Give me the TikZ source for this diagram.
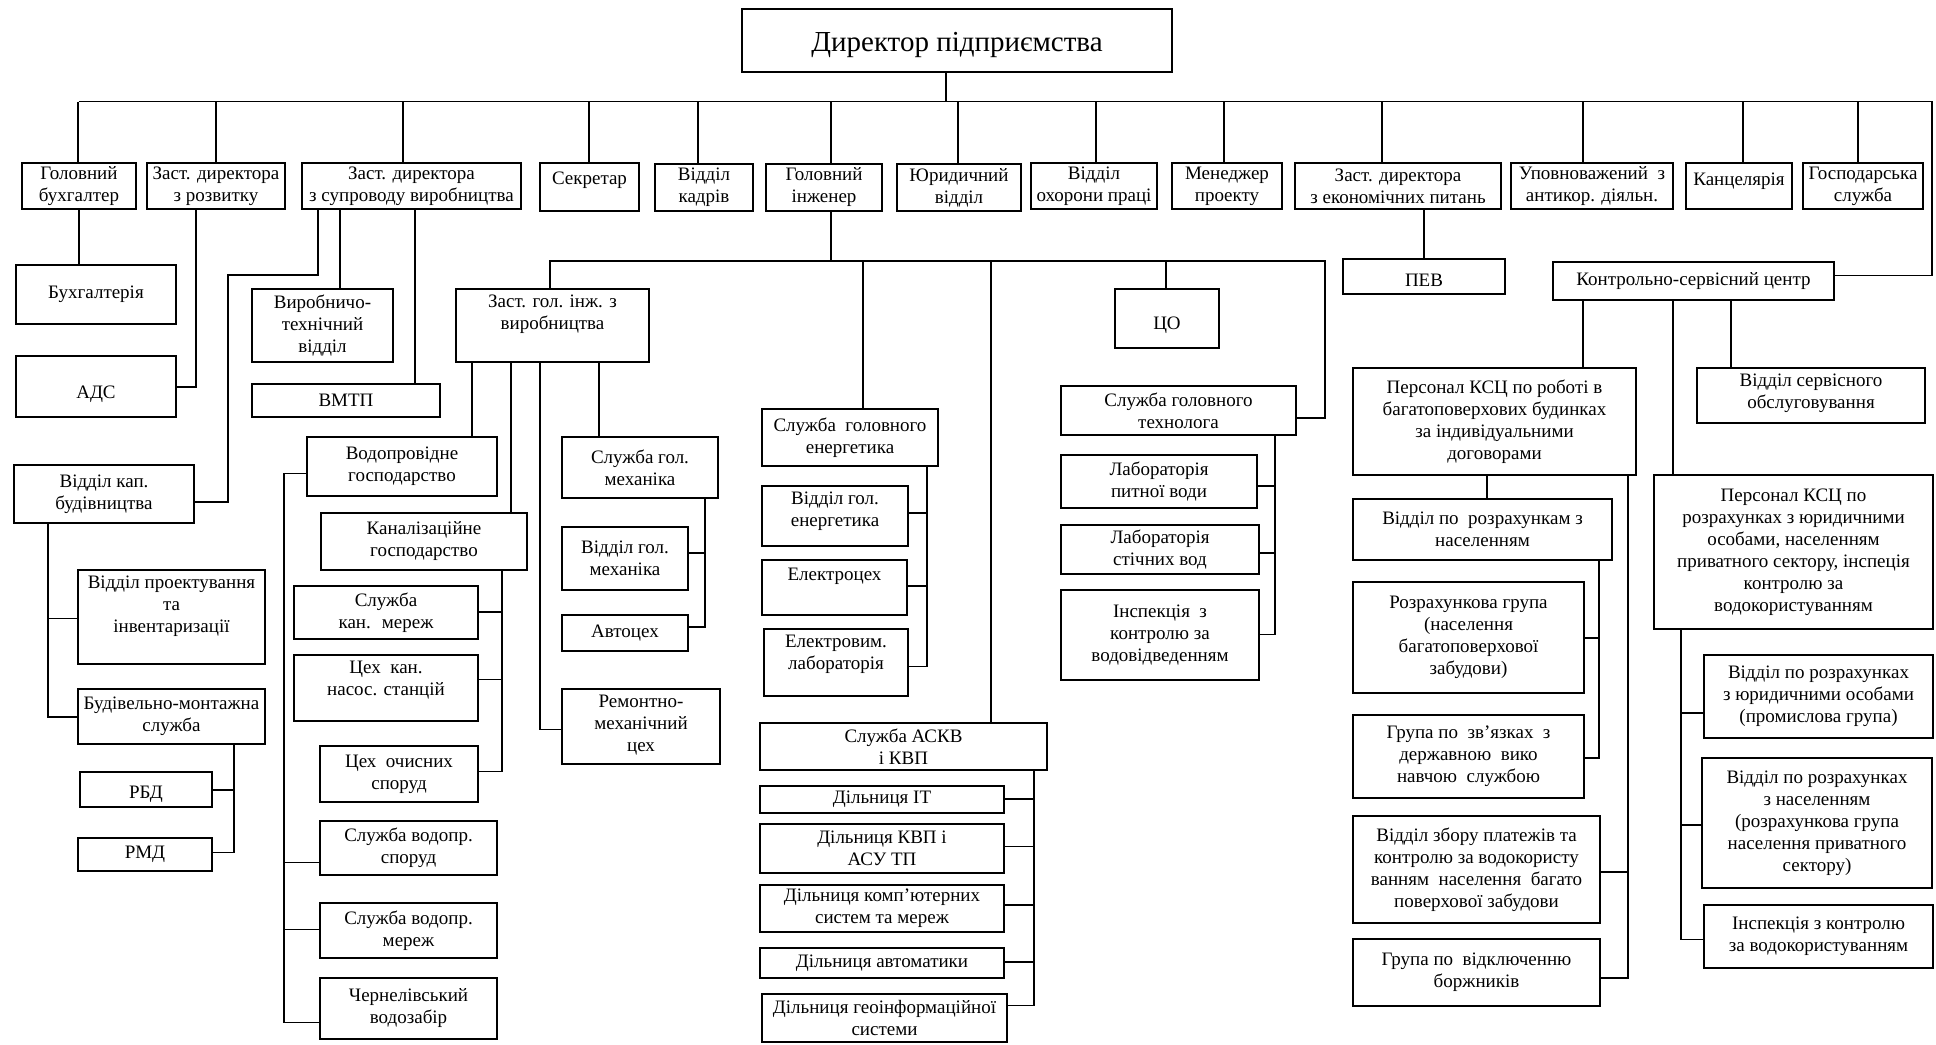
\documentclass[tikz,border=0pt]{standalone}
\usepackage{fontspec}
\setmainfont{Liberation Serif}
\tikzset{
  box/.style={draw, line width=0.7pt, inner sep=0pt, outer sep=0pt},
  lbl/.style={align=center, inner sep=0pt, font=\fontsize{9.5}{11}\selectfont},
  ln/.style={line width=0.7pt}
}
\newcommand\mybox[6]{%
  \pgfmathsetmacro\bxw{(#4-#2)*0.5}%
  \pgfmathsetmacro\bxh{(#5-#3)*0.5}%
  \node[box, minimum width=\bxw pt, minimum height=\bxh pt] (#1) at ({(#2+#4)/2},{(#3+#5)/2}) {};%
  \node[lbl] at (#1.center) {#6};}
\newcommand\myboxs[7]{%
  \pgfmathsetmacro\bxw{(#4-#2)*0.5}%
  \pgfmathsetmacro\bxh{(#5-#3)*0.5}%
  \node[box, minimum width=\bxw pt, minimum height=\bxh pt] (#1) at ({(#2+#4)/2},{(#3+#5)/2}) {};%
  \node[lbl] at ([yshift=-#7]#1.center) {#6};}
\newcommand\myboxt[7]{%
  \pgfmathsetmacro\bxw{(#4-#2)*0.5}%
  \pgfmathsetmacro\bxh{(#5-#3)*0.5}%
  \node[box, minimum width=\bxw pt, minimum height=\bxh pt] (#1) at ({(#2+#4)/2},{(#3+#5)/2}) {};%
  \node[lbl, anchor=north] at ([yshift=-#7]#1.north) {#6};}
\begin{document}
\begin{tikzpicture}[x=0.5pt, y=-0.5pt]
\useasboundingbox (0,0) rectangle (1936,1044);
% director
\pgfmathsetmacro\bxw{(1172-742)*0.5}\pgfmathsetmacro\bxh{(72-9)*0.5}
\node[box, minimum width=\bxw pt, minimum height=\bxh pt] (dir) at (957,40.5) {};
\node[inner sep=0pt, font=\fontsize{14.5}{16}\selectfont] at ([yshift=-2pt]dir.center) {Директор підприємства};
% top row
\mybox{gb}{22}{163}{136}{209}{Головний\\бухгалтер}
\mybox{zr}{147}{163}{285}{209}{Заст. директора\\з розвитку}
\mybox{zs}{302}{163}{521}{209}{Заст. директора\\з супроводу виробництва}
\myboxt{sek}{540}{163}{639}{211}{Секретар}{4.5pt}
\mybox{kad}{655}{164}{753}{211}{Відділ\\кадрів}
\mybox{gi}{766}{164}{882}{211}{Головний\\інженер}
\mybox{yur}{897}{164}{1021}{211}{Юридичний\\відділ}
\mybox{ohp}{1031}{163}{1157}{209}{Відділ\\охорони праці}
\mybox{men}{1172}{163}{1282}{209}{Менеджер\\проекту}
\mybox{zek}{1295}{163}{1501}{209}{Заст. директора\\з економічних питань}
\mybox{upo}{1511}{163}{1673}{209}{Уповноважений~ з\\антикор. діяльн.}
\myboxt{kan}{1686}{163}{1792}{209}{Канцелярія}{5pt}
\mybox{gos}{1803}{163}{1923}{209}{Господарська\\служба}
% left branch
\mybox{buh}{16}{265}{176}{324}{Бухгалтерія}
\myboxs{ads}{16}{356}{176}{417}{АДС}{4pt}
\mybox{vtv}{252}{289}{393}{362}{Виробничо-\\технічний\\відділ}
\mybox{vmtp}{252}{384}{440}{417}{ВМТП}
\mybox{kap}{14}{465}{194}{523}{Відділ кап.\\будівництва}
\myboxt{vpi}{78}{570}{265}{664}{Відділ проектування\\та\\інвентаризації}{3pt}
\mybox{bms}{78}{689}{265}{744}{Будівельно-монтажна\\служба}
\myboxs{rbd}{80}{772}{212}{807}{РБД}{2.5pt}
\mybox{rmd}{78}{838}{212}{871}{РМД}
% engineer branch
\myboxt{zgi}{456}{289}{649}{362}{Заст. гол. інж. з\\виробництва}{3pt}
\mybox{vod}{307}{437}{497}{496}{Водопровідне\\господарство}
\mybox{kanal}{321}{513}{527}{570}{Каналізаційне\\господарство}
\mybox{skm}{294}{586}{478}{639}{Служба\\кан.~ мереж}
\myboxt{cks}{294}{655}{478}{721}{Цех~ кан.\\насос. станцій}{3pt}
\mybox{cos}{320}{746}{478}{802}{Цех~ очисних\\споруд}
\mybox{svs}{320}{821}{497}{875}{Служба водопр.\\споруд}
\mybox{svm}{320}{903}{497}{958}{Служба водопр.\\мереж}
\mybox{chv}{320}{978}{497}{1039}{Чернелівський\\водозабір}
\mybox{sgm}{562}{437}{718}{498}{Служба гол.\\механіка}
\mybox{vgm}{562}{527}{688}{590}{Відділ гол.\\механіка}
\mybox{avt}{562}{615}{688}{651}{Автоцех}
\myboxt{rmc}{562}{689}{720}{764}{Ремонтно-\\механічний\\цех}{3pt}
\mybox{sge}{762}{409}{938}{466}{Служба~ головного\\енергетика}
\myboxt{vge}{762}{486}{908}{546}{Відділ гол.\\енергетика}{3pt}
\myboxt{elc}{762}{560}{907}{615}{Електроцех}{4pt}
\myboxt{elv}{764}{629}{908}{696}{Електровим.\\лабораторія}{3pt}
\mybox{askv}{760}{723}{1047}{770}{Служба АСКВ\\і КВП}
\mybox{dit}{760}{786}{1004}{813}{Дільниця ІТ}
\mybox{dkvp}{760}{824}{1004}{873}{Дільниця КВП і\\АСУ ТП}
\mybox{dks}{760}{885}{1004}{932}{Дільниця комп’ютерних\\систем та мереж}
\mybox{dav}{760}{948}{1004}{978}{Дільниця автоматики}
\mybox{dgeo}{762}{994}{1007}{1042}{Дільниця геоінформаційної\\системи}
\myboxs{co}{1115}{289}{1219}{348}{ЦО}{3.5pt}
\mybox{sgt}{1061}{386}{1296}{435}{Служба головного\\технолога}
\mybox{lpv}{1061}{455}{1257}{508}{Лабораторія\\питної води}
\mybox{lsv}{1061}{525}{1259}{574}{Лабораторія\\стічних вод}
\mybox{ikv}{1061}{590}{1259}{680}{Інспекція~ з\\контролю за\\водовідведенням}
% economic branch
\myboxs{pev}{1343}{259}{1505}{294}{ПЕВ}{2pt}
\mybox{ksc}{1553}{262}{1834}{300}{Контрольно-сервісний центр}
\mybox{pbb}{1353}{368}{1636}{475}{Персонал КСЦ по роботі в\\багатоповерхових будинках\\за індивідуальними\\договорами}
\myboxt{vso}{1697}{368}{1925}{423}{Відділ сервісного\\обслуговування}{3pt}
\mybox{vrn}{1353}{499}{1612}{560}{Відділ по~ розрахункам з\\населенням}
\mybox{rgr}{1353}{582}{1584}{693}{Розрахункова група\\(населення\\багатоповерхової\\забудови)}
\mybox{gzv}{1353}{715}{1584}{798}{Група по~ зв’язках~ з\\державною~ вико\\навчою~ службою}
\mybox{vzp}{1353}{816}{1600}{923}{Відділ збору платежів та\\контролю за водокористу\\ванням~ населення~ багато\\поверхової забудови}
\mybox{gvb}{1353}{939}{1600}{1006}{Група по~ відключенню\\боржників}
\mybox{prz}{1654}{475}{1933}{629}{Персонал КСЦ по\\розрахунках з юридичними\\особами, населенням\\приватного сектору, інспеція\\контролю за\\водокористуванням}
\mybox{vyu}{1704}{655}{1933}{738}{Відділ по розрахунках\\з юридичними особами\\(промислова група)}
\mybox{vnp}{1702}{758}{1932}{888}{Відділ по розрахунках\\з населенням\\(розрахункова група\\населення приватного\\сектору)}
\mybox{ikw}{1704}{905}{1933}{968}{Інспекція з контролю\\за водокористуванням}
% ---------- connectors ----------
\coordinate (tb) at (0,101.6);
\draw[ln] (dir.south -| 946,0) -- (946,101.6);
\draw[ln] (gb.north |- tb) -- (1932,101.6) |- (ksc.east |- 0,275.5);
\foreach \n/\x in {gb/78, zr/216, zs/403, sek/589, kad/698, gi/831, yur/958, ohp/1096, men/1224, zek/1382, upo/1583, kan/1743, gos/1858}
  \draw[ln] (\x,101.6) -- (\n.north -| \x,0);
% left
\draw[ln] (gb.south) -- (gb.south |- buh.north);
\draw[ln] (zr.south -| 196,0) |- (ads.east |- 0,387);
\draw[ln] (zs.south -| 318,0) -- (318,275) -- (228,275) |- (kap.east |- 0,502);
\draw[ln] (zs.south -| 340,0) -- (vtv.north -| 340,0);
\draw[ln] (zs.south -| 415,0) -- (vmtp.north -| 415,0);
\draw[ln] (kap.south -| 48,0) |- (bms.west |- 0,717);
\draw[ln] (48,618.6) -- (vpi.west |- 0,618.6);
\draw[ln] (bms.south -| 234,0) -- (234,852.5) -- (rmd.east |- 0,852.5);
\draw[ln] (234,790) -- (rbd.east |- 0,790);
% engineer
\draw[ln] (gi.south -| 831,0) -- (831,261);
\draw[ln] (zgi.north -| 550,0) |- (1325,261) |- (sgt.east |- 0,418);
\draw[ln] (863,261) -- (sge.north -| 863,0);
\draw[ln] (991,261) -- (askv.north -| 991,0);
\draw[ln] (1166,261) -- (co.north -| 1166,0);
\draw[ln] (zgi.south -| 472,0) -- (vod.north -| 472,0);
\draw[ln] (zgi.south -| 511,0) -- (kanal.north -| 511,0);
\draw[ln] (zgi.south -| 540,0) |- (rmc.west |- 0,729.5);
\draw[ln] (zgi.south -| 599,0) -- (sgm.north -| 599,0);
\draw[ln] (vod.west |- 0,473.5) -| (284,1022.3) -- (chv.west |- 0,1022.3);
\draw[ln] (284,862.5) -- (svs.west |- 0,862.5);
\draw[ln] (284,929.4) -- (svm.west |- 0,929.4);
\draw[ln] (kanal.south -| 502,0) |- (cos.east |- 0,771.3);
\draw[ln] (502,612) -- (skm.east |- 0,612);
\draw[ln] (502,679.4) -- (cks.east |- 0,679.4);
\draw[ln] (sgm.south -| 705,0) |- (avt.east |- 0,627);
\draw[ln] (705,553) -- (vgm.east |- 0,553);
\draw[ln] (sge.south -| 927,0) |- (elv.east |- 0,666.4);
\draw[ln] (927,513) -- (vge.east |- 0,513);
\draw[ln] (927,586) -- (elc.east |- 0,586);
\draw[ln] (sgt.south -| 1275,0) |- (ikv.east |- 0,634.6);
\draw[ln] (1275,486) -- (lpv.east |- 0,486);
\draw[ln] (1275,553) -- (lsv.east |- 0,553);
\draw[ln] (askv.south -| 1034,0) |- (dgeo.east |- 0,1005.6);
\draw[ln] (1034,799) -- (dit.east |- 0,799);
\draw[ln] (1034,846.5) -- (dkvp.east |- 0,846.5);
\draw[ln] (1034,905) -- (dks.east |- 0,905);
\draw[ln] (1034,961.8) -- (dav.east |- 0,961.8);
% economic
\draw[ln] (zek.south -| 1424,0) -- (pev.north -| 1424,0);
\draw[ln] (ksc.south -| 1583,0) -- (pbb.north -| 1583,0);
\draw[ln] (ksc.south -| 1673,0) -- (prz.north -| 1673,0);
\draw[ln] (ksc.south -| 1731,0) -- (vso.north -| 1731,0);
\draw[ln] (pbb.south -| 1487,0) -- (vrn.north -| 1487,0);
\draw[ln] (vrn.south -| 1599,0) |- (gzv.east |- 0,758);
\draw[ln] (1599,638) -- (rgr.east |- 0,638);
\draw[ln] (pbb.south -| 1628,0) |- (gvb.east |- 0,977.8);
\draw[ln] (1628,872) -- (vzp.east |- 0,872);
\draw[ln] (prz.south -| 1681,0) |- (ikw.west |- 0,939.4);
\draw[ln] (1681,713) -- (vyu.west |- 0,713);
\draw[ln] (1681,825) -- (vnp.west |- 0,825);
\end{tikzpicture}
\end{document}
